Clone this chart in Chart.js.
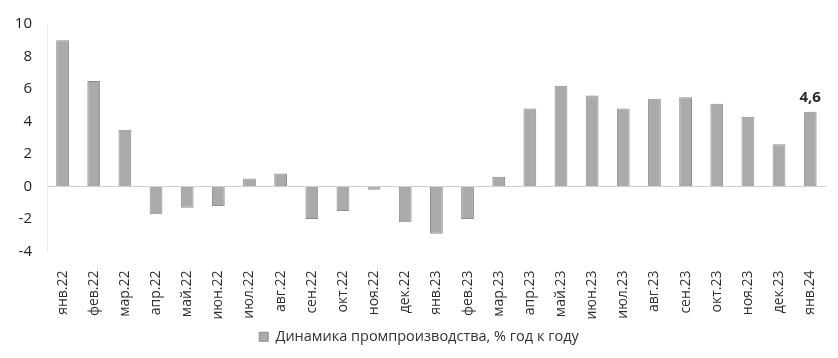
<!DOCTYPE html>
<html lang="ru">
<head>
<meta charset="utf-8">
<script src="https://cdn.jsdelivr.net/npm/chart.js@4/dist/chart.umd.min.js"></script>
<style>
  html, body { margin: 0; padding: 0; background: #ffffff; }
  #wrap { width: 838px; height: 358px; }
</style>
</head>
<body>
<div id="wrap"><canvas id="c" width="838" height="358"></canvas></div>
<script>
// Месяцы
const months = [
  'янв.22','фев.22','мар.22','апр.22','май.22','июн.22','июл.22','авг.22',
  'сен.22','окт.22','ноя.22','дек.22','янв.23','фев.23','мар.23','апр.23',
  'май.23','июн.23','июл.23','авг.23','сен.23','окт.23','ноя.23','дек.23','янв.24'
];
// Промпроизводство, % год к году
const industryYoY = [
  9.0, 6.5, 3.5, -1.7, -1.3, -1.2, 0.5, 0.8,
  -2.0, -1.5, -0.2, -2.2, -2.9, -2.0, 0.6, 4.8,
  6.2, 5.6, 4.8, 5.4, 5.5, 5.1, 4.3, 2.6, 4.6
];
const seriesName = 'Динамика промпроизводства, % год к году';
// Подпись последнего значения
const labelIndex = months.length - 1;
const labelText = '4,6';

const FONT = '"Open Sans", "Liberation Sans", sans-serif';

const lastValueLabel = {
  id: 'lastValueLabel',
  afterDatasetsDraw(chart) {
    const meta = chart.getDatasetMeta(0);
    const bar = meta.data[labelIndex];
    const ctx = chart.ctx;
    ctx.save();
    ctx.font = 'bold 15px ' + FONT;
    ctx.fillStyle = '#2b2b2b';
    ctx.textAlign = 'center';
    ctx.textBaseline = 'bottom';
    ctx.fillText(labelText, bar.x, bar.y - 7);
    ctx.restore();
  }
};

new Chart(document.getElementById('c'), {
  type: 'bar',
  data: {
    labels: months,
    datasets: [{
      label: seriesName,
      data: industryYoY,
      backgroundColor: '#aaaaaa',
      borderColor: '#8e8e8e',
      borderWidth: 1,
      barPercentage: 0.41,
      categoryPercentage: 1.0
    }]
  },
  options: {
    responsive: false,
    animation: false,
    layout: { padding: { top: 23, right: 0, left: 0, bottom: 4 } },
    plugins: {
      legend: {
        position: 'bottom',
        labels: {
          font: { family: FONT, size: 14.5 },
          color: '#333333',
          boxWidth: 9,
          boxHeight: 9,
          padding: 8
        }
      },
      tooltip: { enabled: false }
    },
    scales: {
      x: {
        grid: { display: false },
        border: { display: false },
        ticks: {
          autoSkip: false,
          minRotation: 90,
          maxRotation: 90,
          padding: 11,
          color: '#2e2e2e',
          font: { family: FONT, size: 14 }
        },
        afterFit(scale) { scale.height = 70; }
      },
      y: {
        min: -4,
        max: 10,
        ticks: {
          stepSize: 2,
          color: '#1e1e1e',
          padding: 15,
          font: { family: FONT, size: 15 }
        },
        grid: {
          drawTicks: false,
          color: (c) => (c.tick && c.tick.value === 0) ? '#cfcfcf' : 'rgba(0,0,0,0)'
        },
        border: { display: true, color: '#ececec' },
        afterFit(scale) { scale.width = 47; }
      }
    }
  },
  plugins: [lastValueLabel]
});
</script>
</body>
</html>
